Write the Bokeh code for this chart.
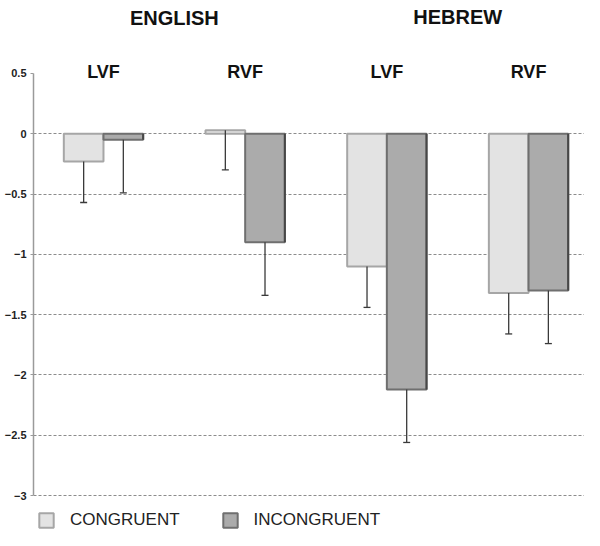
from bokeh.plotting import figure
from bokeh.models import ColumnDataSource, FixedTicker, Legend, LegendItem, Range1d
from bokeh.core.properties import value
from bokeh.embed import file_html
from bokeh.resources import INLINE

# ---- data ----
languages = ["ENGLISH", "HEBREW"]
fields = ["LVF", "RVF", "LVF", "RVF"]
congruent = [-0.23, 0.03, -1.10, -1.32]
incongruent = [-0.05, -0.90, -2.12, -1.30]
congruent_err = [0.34, 0.33, 0.34, 0.34]
incongruent_err = [0.44, 0.44, 0.44, 0.44]
y_ticks = [0.5, 0, -0.5, -1, -1.5, -2, -2.5, -3]
grid_ticks = [0, -0.5, -1, -1.5, -2, -2.5, -3]
series_names = ["CONGRUENT", "INCONGRUENT"]

# ---- layout constants ----
BAR_W = 0.28
pos = list(range(len(fields)))
x_c = [p - BAR_W / 2 for p in pos]
x_i = [p + BAR_W / 2 for p in pos]

p = figure(width=584, height=530, output_backend="svg", toolbar_location=None,
           x_range=Range1d(-0.494, 3.395), y_range=Range1d(-3.290, 1.105),
           min_border_left=33, min_border_right=0, min_border_top=0, min_border_bottom=0)
p.outline_line_color = None
p.background_fill_color = "white"
p.xaxis.visible = False
p.xgrid.visible = False

ya = p.yaxis[0]
ya.ticker = FixedTicker(ticks=y_ticks)
ya.bounds = (-3, 0.5)
ya.axis_line_color = "#9a9a9a"
ya.axis_line_width = 1.5
ya.major_tick_line_color = "#9a9a9a"
ya.major_tick_out = 3
ya.major_tick_in = 0
ya.minor_tick_line_color = None
ya.major_label_standoff = 4
ya.major_label_text_font = "Liberation Sans"
ya.major_label_text_font_style = "bold"
ya.major_label_text_font_size = "11px"
ya.major_label_text_color = "#222222"

p.ygrid.ticker = FixedTicker(ticks=grid_ticks)
p.ygrid.grid_line_color = "#8c8c8c"
p.ygrid.grid_line_dash = "3 2"
p.ygrid.grid_line_width = 1

src_c = ColumnDataSource(dict(x=x_c, top=congruent,
                              low=[v - e for v, e in zip(congruent, congruent_err)]))
src_i = ColumnDataSource(dict(x=x_i, top=incongruent,
                              low=[v - e for v, e in zip(incongruent, incongruent_err)],
                              xr=[x + BAR_W / 2 for x in x_i]))

rc = p.vbar(x="x", top="top", bottom=0, width=BAR_W, source=src_c,
            fill_color="#e3e3e3", line_color="#a6a6a6", line_width=2)
ri = p.vbar(x="x", top="top", bottom=0, width=BAR_W, source=src_i,
            fill_color="#ababab", line_color="#6f6f6f", line_width=2)
# darker right edge of incongruent bars
p.segment(x0="xr", y0=0, x1="xr", y1="top", source=src_i, line_color="#474747", line_width=2)

for src in (src_c, src_i):
    p.segment(x0="x", y0="top", x1="x", y1="low", source=src, line_color="#3a3a3a", line_width=1.3)
    p.scatter(x="x", y="low", source=src, marker="dash", size=7, line_color="#3a3a3a", line_width=1.3)

# field labels (LVF / RVF)
p.text(x=pos, y=[0.508] * len(pos), text=fields, text_align="center", text_baseline="alphabetic",
       text_font=value("Liberation Sans"), text_font_style="bold", text_font_size="18px",
       text_color="#111111")
# language labels
lang_x = [(pos[0] + pos[1]) / 2, (pos[2] + pos[3]) / 2]
p.text(x=lang_x, y=[0.956, 0.965], text=languages, text_align="center", text_baseline="alphabetic",
       text_font=value("Liberation Sans"), text_font_style="bold", text_font_size="20px",
       text_color="#111111")

legend = Legend(items=[LegendItem(label=series_names[0], renderers=[rc]),
                       LegendItem(label=series_names[1], renderers=[ri])],
                location=(4, 0), orientation="horizontal",
                glyph_width=18, glyph_height=18, label_height=18, label_standoff=15,
                spacing=41, padding=0, margin=0,
                border_line_color=None, background_fill_alpha=0,
                label_text_font="Liberation Sans",
                label_text_font_size="17px", label_text_color="#222222")
p.add_layout(legend, "center")

open("out.html", "w").write(file_html(p, INLINE))
